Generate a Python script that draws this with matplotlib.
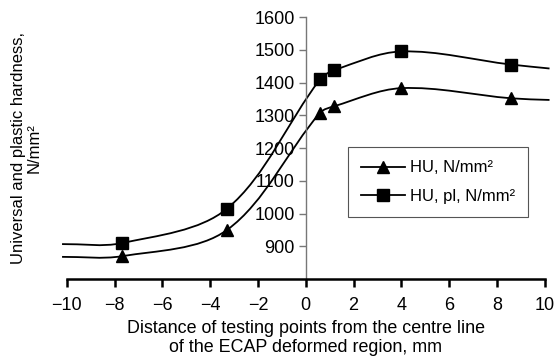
import numpy as np
import matplotlib
matplotlib.use('Agg')
import matplotlib.pyplot as plt
from matplotlib.path import Path
from matplotlib.patches import PathPatch
from matplotlib.lines import Line2D

plt.rcParams['font.family'] = ['Liberation Sans', 'DejaVu Sans']

# measured points (markers)
x_pts = [-7.7, -3.3, 0.6, 1.2, 4.0, 8.6]
hu = [870, 950, 1308, 1328, 1383, 1352]
hu_pl = [910, 1015, 1410, 1438, 1495, 1455]

# ends of the smoothed curves (no markers)
x_ends = [-10.2, 10.2]
hu_ends = [868, 1347]
hu_pl_ends = [907, 1443]

yticks = [900, 1000, 1100, 1200, 1300, 1400, 1500, 1600]
xticks = [-10, -8, -6, -4, -2, 0, 2, 4, 6, 8, 10]


def smooth_path(xs, ys, sx=23.9, sy=0.328):
    # smoothed line like excel: bezier, control arms weighted by segment length
    P = np.column_stack([xs, ys]).astype(float)
    S = P * [sx, sy]
    n = len(P)
    d = np.hypot(*np.diff(S, axis=0).T)
    verts = [P[0]]
    codes = [Path.MOVETO]
    for i in range(n - 1):
        p1, p2 = P[i], P[i + 1]
        if i > 0:
            c1 = p1 + (p2 - P[i - 1]) * d[i] / (d[i - 1] + d[i]) / 3.0
        else:
            c1 = p1 + (p2 - p1) / 3.0
        if i + 2 < n:
            c2 = p2 - (P[i + 2] - p1) * d[i] / (d[i] + d[i + 1]) / 3.0
        else:
            c2 = p2 - (p2 - p1) / 3.0
        verts += [c1, c2, p2]
        codes += [Path.CURVE4] * 3
    return Path(verts, codes)


fig = plt.figure(figsize=(5.57, 3.63), dpi=100)
ax = fig.add_axes([0.120, 0.231, 0.858, 0.722])

for ys, ends in [(hu, hu_ends), (hu_pl, hu_pl_ends)]:
    xs = [x_ends[0]] + x_pts + [x_ends[1]]
    yy = [ends[0]] + ys + [ends[1]]
    patch = PathPatch(smooth_path(xs, yy), facecolor='none', edgecolor='black',
                      lw=1.3, clip_on=False, zorder=2)
    ax.add_patch(patch)

ax.plot(x_pts, hu, linestyle='none', marker='^', color='black', ms=9, zorder=3, clip_on=False)
ax.plot(x_pts, hu_pl, linestyle='none', marker='s', color='black', ms=9, zorder=3, clip_on=False)

ax.set_xlim(-10, 10)
ax.set_ylim(800, 1600)
ax.set_xticks(xticks)
ax.set_xticklabels(['\u2212' + str(abs(t)) if t < 0 else str(t) for t in xticks])
ax.set_yticks(yticks)

ax.spines['left'].set_position(('data', 0))
ax.spines['left'].set_color('#777777')
ax.spines['left'].set_linewidth(1.0)
ax.spines['bottom'].set_linewidth(1.8)
ax.spines['right'].set_visible(False)
ax.spines['top'].set_visible(False)

ax.tick_params(axis='x', direction='out', length=6, width=1.8, labelsize=13, pad=7)
ax.tick_params(axis='y', direction='out', length=5, width=1.0, color='#777777', labelsize=13, pad=3)

ax.set_xlabel('Distance of testing points from the centre line\nof the ECAP deformed region, mm',
              fontsize=12.9, linespacing=1.2, labelpad=4)
ax.set_ylabel('Universal and plastic hardness,\nN/mm\u00b2', fontsize=12, linespacing=1.1)
ax.yaxis.set_label_coords(-0.052, 0.5)

handles = [Line2D([], [], color='black', marker='^', ms=9, lw=1.3),
           Line2D([], [], color='black', marker='s', ms=9, lw=1.3)]
leg = ax.legend(handles, ['HU, N/mm\u00b2', 'HU, pl, N/mm\u00b2'], loc='upper left',
                bbox_to_anchor=(0.588, 0.504), borderaxespad=0, fontsize=12,
                handlelength=2.6, labelspacing=0.8, fancybox=False, framealpha=1,
                edgecolor='#555555', borderpad=0.8, handletextpad=0.3)
leg.get_frame().set_linewidth(0.8)

fig.savefig('out.png', dpi=100)
